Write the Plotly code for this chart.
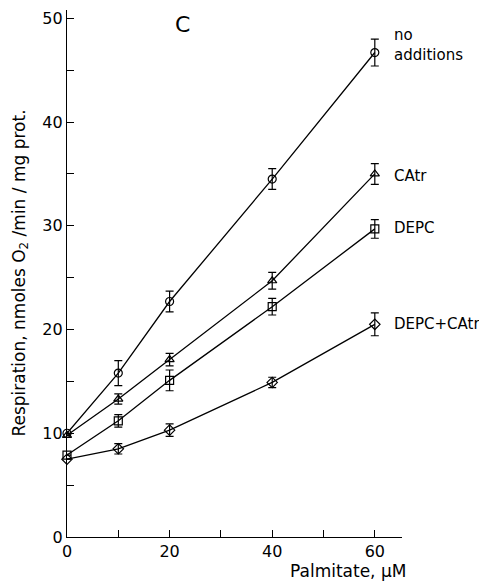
import plotly.graph_objects as go

palmitate = [0, 10, 20, 40, 60]
no_add = [10.0, 15.8, 22.7, 34.5, 46.7]
no_add_err = [0.0, 1.2, 1.0, 1.0, 1.3]
catr = [9.8, 13.3, 17.1, 24.7, 35.0]
catr_err = [0.0, 0.5, 0.6, 0.8, 1.0]
depc = [7.9, 11.2, 15.1, 22.2, 29.7]
depc_err = [0.0, 0.6, 1.0, 0.8, 0.9]
depc_catr = [7.5, 8.5, 10.3, 14.9, 20.5]
depc_catr_err = [0.0, 0.5, 0.6, 0.5, 1.1]

series = [
    ("no additions", no_add, no_add_err, "circle-open"),
    ("CAtr", catr, catr_err, "triangle-up-open"),
    ("DEPC", depc, depc_err, "square-open"),
    ("DEPC+CAtr", depc_catr, depc_catr_err, "diamond-open"),
]

FONT = "DejaVu Sans"
fig = go.Figure()
for name, vals, err, sym in series:
    fig.add_trace(go.Scatter(
        x=palmitate, y=vals, mode="lines+markers", name=name,
        line=dict(color="black", width=1.3),
        marker=dict(symbol=sym, size=8, color="black", line=dict(width=1.2)),
        error_y=dict(type="data", array=err, visible=True, color="black",
                     thickness=1.2, width=4),
        cliponaxis=False,
    ))

labels = [
    ("no<br>additions", 63.3, 47.4, 15),
    ("CAtr", 63.3, 34.8, 15),
    ("DEPC", 63.3, 29.8, 15),
    ("DEPC+CAtr", 63.3, 20.5, 15),
]
for txt, x, y, s in labels:
    fig.add_annotation(x=x, y=y, xref="x", yref="y", text=txt, showarrow=False,
                       xanchor="left", align="left",
                       font=dict(family=FONT, size=s, color="black"))
fig.add_annotation(x=22.6, y=49.4, xref="x", yref="y", text="C", showarrow=False,
                   xanchor="center", font=dict(family=FONT, size=22, color="black"))

# axis titles
fig.add_annotation(x=54.8, y=-0.065, xref="x", yref="paper", text="Palmitate, μM",
                   showarrow=False, xanchor="center", yanchor="middle",
                   font=dict(family=FONT, size=17, color="black"))
fig.add_annotation(x=-0.14, y=0.5, xref="paper", yref="paper",
                   text="Respiration, nmoles O<sub>2</sub> /min / mg prot.",
                   textangle=-90, showarrow=False, xanchor="center", yanchor="middle",
                   font=dict(family=FONT, size=17, color="black"))

fig.update_layout(
    width=479, height=585,
    margin=dict(l=67, r=77, t=10, b=48),
    paper_bgcolor="white", plot_bgcolor="white",
    showlegend=False,
    font=dict(family=FONT, size=15, color="black"),
)
fig.update_xaxes(
    range=[0, 65.3], tickvals=[0, 20, 40, 60], ticks="inside", ticklen=7,
    tickcolor="black", showline=True, linecolor="black", linewidth=1.3,
    showgrid=False, zeroline=False,
    minor=dict(tickvals=[10, 30, 50], ticks="inside", ticklen=7, tickcolor="black"),
    tickfont=dict(family=FONT, size=16),
)
fig.update_yaxes(
    range=[0, 50.8], tickvals=[0, 10, 20, 30, 40, 50], ticks="inside", ticklen=7,
    tickcolor="black", showline=True, linecolor="black", linewidth=1.3,
    showgrid=False, zeroline=False,
    minor=dict(tickvals=[5, 15, 25, 35, 45], ticks="inside", ticklen=7, tickcolor="black"),
    tickfont=dict(family=FONT, size=16),
)

fig.write_html("out.html")
